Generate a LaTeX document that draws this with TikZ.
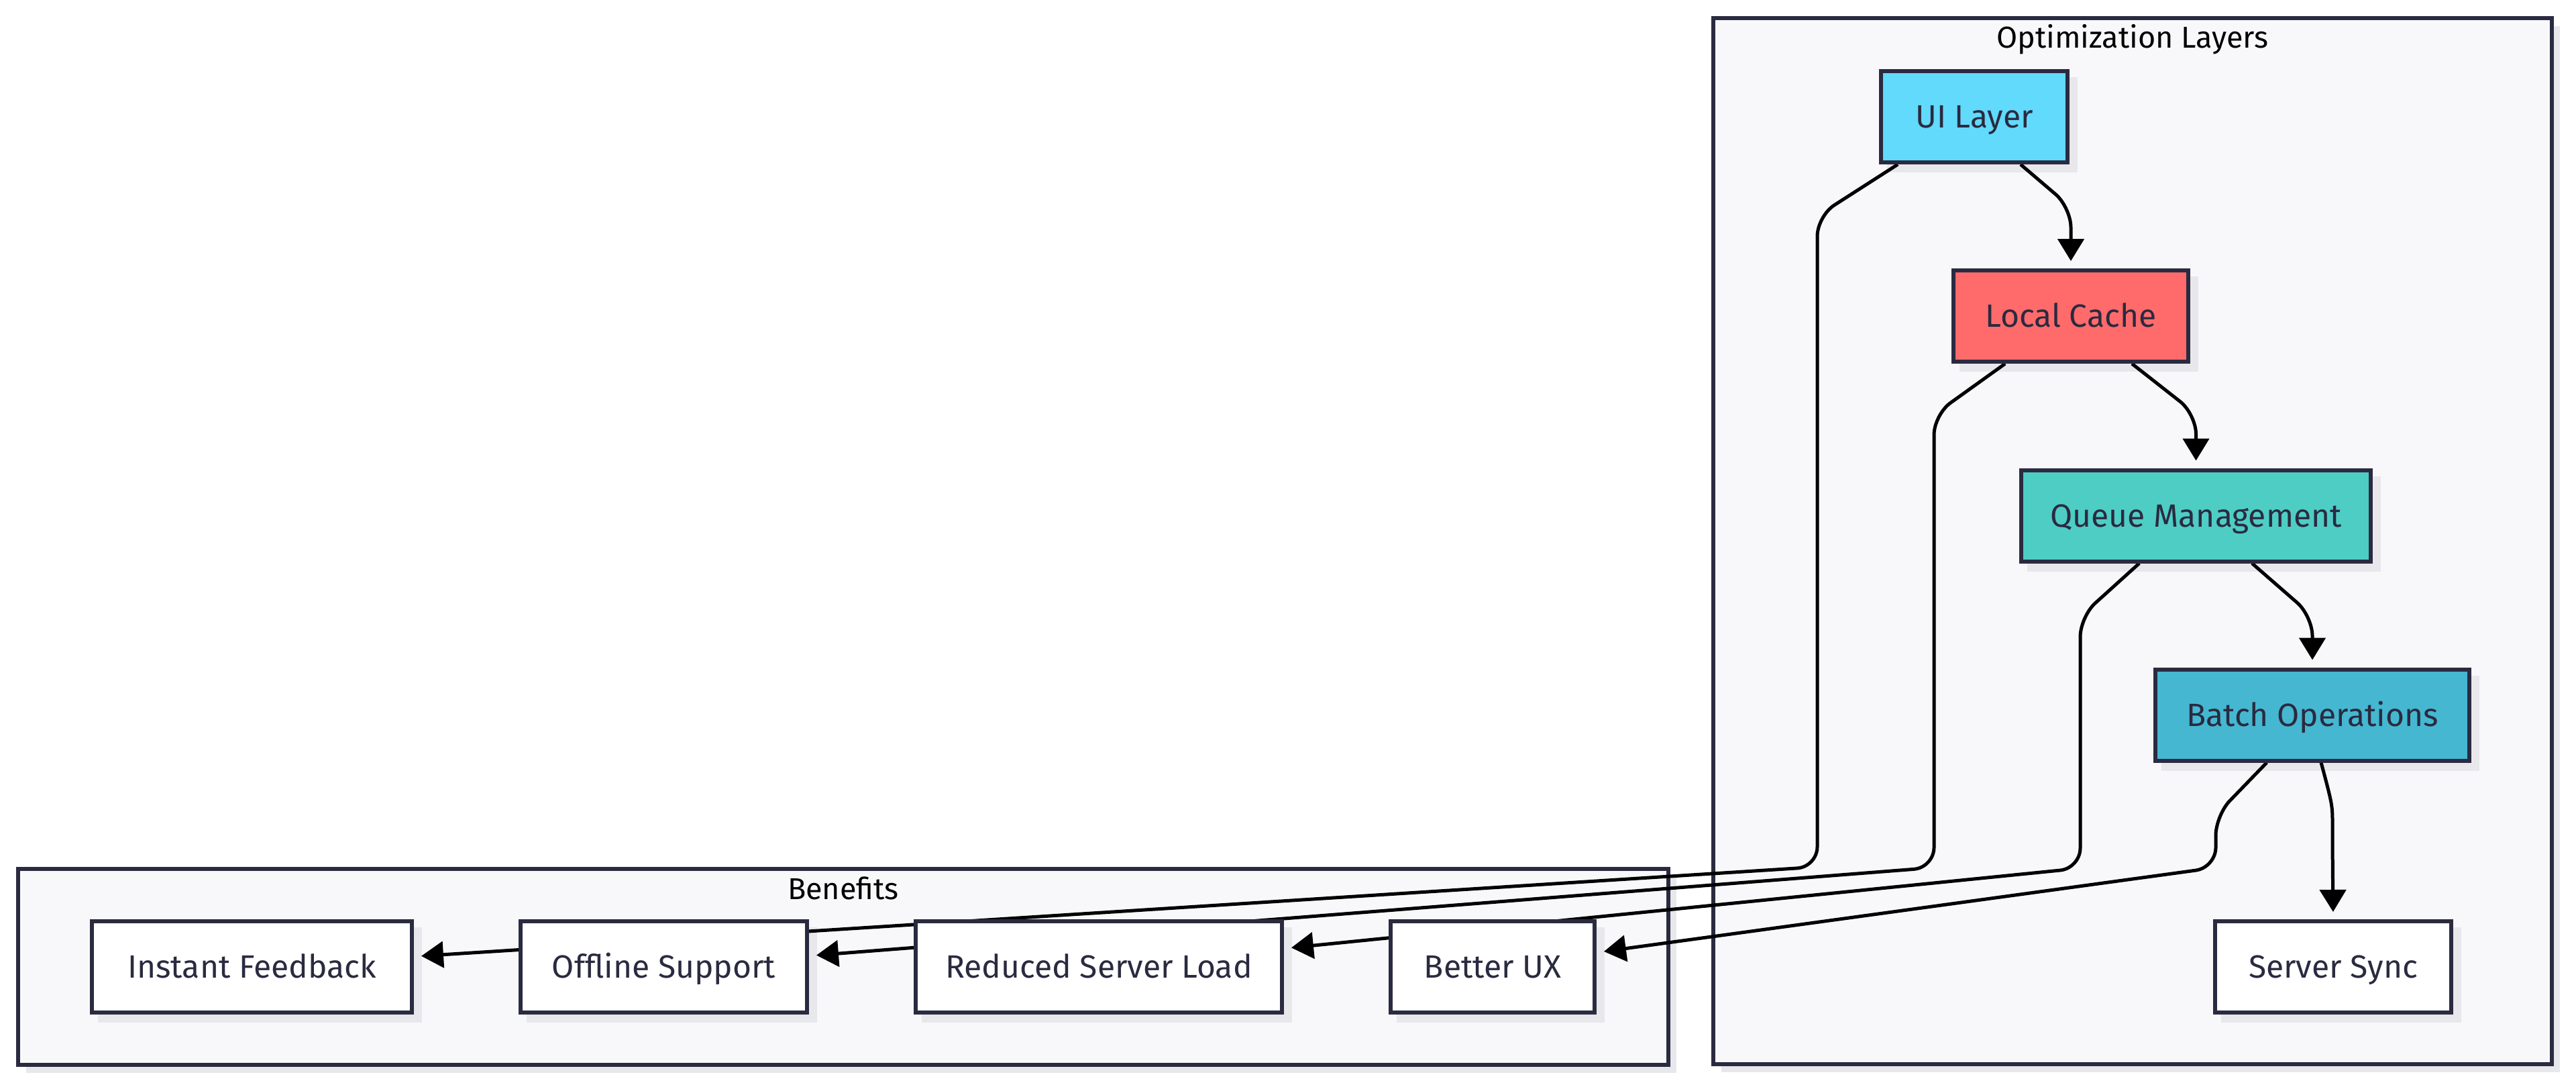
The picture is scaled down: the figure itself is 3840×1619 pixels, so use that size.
\documentclass[tikz,border=0pt]{standalone}
\usepackage{fontspec}
\setmainfont{Fira Sans}
\usetikzlibrary{arrows.meta,shadows,calc}
\definecolor{nodeborder}{HTML}{2A2A40}
\definecolor{nodetext}{HTML}{2A2A40}
\definecolor{clusterfill}{HTML}{F8F8FA}
\definecolor{shadowgray}{HTML}{E8E8EC}
\definecolor{uicol}{HTML}{61DAFB}
\definecolor{cachecol}{HTML}{FF6B6B}
\definecolor{queuecol}{HTML}{4ECDC4}
\definecolor{batchcol}{HTML}{45B7D1}
\pgfdeclarelayer{bg}
\pgfdeclarelayer{edgelayer}
\pgfsetlayers{bg,edgelayer,main}
\tikzset{
  box/.style={draw=nodeborder, line width=6pt, inner sep=0pt, fill=white,
    minimum height=136pt, text=nodetext, text height=33pt, text depth=0pt,
    font=\fontsize{48}{56}\selectfont},
  cluster/.style={draw=nodeborder, line width=6pt, inner sep=0pt, fill=clusterfill,
    drop shadow={shadow xshift=12pt, shadow yshift=-12pt, fill=shadowgray, opacity=1}},
  ctitle/.style={inner sep=0pt, text=black, text height=31pt, text depth=0pt,
    font=\fontsize{45}{54}\selectfont},
  edge/.style={draw=black, line width=5pt, rounded corners=30pt,
    -{Triangle[length=33pt,width=39pt]}, shorten >=11pt},
  boxshadow/.style={fill=shadowgray},
}
\begin{document}
\begin{tikzpicture}[x=1pt,y=-1pt]
\useasboundingbox (0,0) rectangle (3840,1619);
% clusters
\begin{pgfonlayer}{bg}
\fill[white] (0,0) rectangle (3840,1619);
\node[cluster, minimum width=1250pt, minimum height=1559pt] (opt) at (3179,806.5) {};
\node[cluster, minimum width=2460pt, minimum height=292pt] (ben) at (1257,1441) {};
\end{pgfonlayer}
\node[ctitle] (optt) at ([yshift=-32pt]opt.north) {Optimization Layers};
\node[ctitle] (bent) at ([yshift=-33pt]ben.north) {Benefits};
% optimization nodes
\node[box, fill=uicol, minimum width=278pt] (ui) at (2943,174) {UI Layer};
\node[box, fill=cachecol, minimum width=350pt] (lc) at (3087,471) {Local Cache};
\node[box, fill=queuecol, minimum width=521pt] (q) at (3273.5,768.5) {Queue Management};
\node[box, fill=batchcol, minimum width=468pt] (b) at (3447,1065.5) {Batch Operations};
\node[box, minimum width=352pt] (ss) at (3478,1441) {Server Sync};
% benefit nodes
\node[box, minimum width=477pt] (fb) at (375.5,1440.5) {Instant Feedback};
\node[box, minimum width=427pt] (off) at (989.5,1440.5) {Offline Support};
\node[box, minimum width=546pt] (rsl) at (1638,1440.5) {Reduced Server Load};
\node[box, minimum width=304pt] (bux) at (2225,1440.5) {Better UX};
% node shadows (under the connectors)
\begin{pgfonlayer}{bg}
\foreach \n in {ui,lc,q,b,ss,fb,off,rsl,bux}
  \fill[boxshadow] ([shift={(12pt,-12pt)}]\n.south west) rectangle ([shift={(12pt,-12pt)}]\n.north east);
\end{pgfonlayer}
% edges
\begin{pgfonlayer}{edgelayer}
\draw[edge] ([xshift=69pt]ui.south) -- (3087,309) -- (lc.north);
\draw[edge] ([xshift=91pt]lc.south) -- (3273.5,617) -- (q.north);
\draw[edge] ([xshift=83.5pt]q.south) -- (3447,918) -- (b.north);
\draw[edge] ([xshift=13pt]b.south) .. controls (3477,1200) .. (3477,1260) -- (ss.north);
\draw[edge] ([xshift=-114pt]ui.south) -- (2709,322) -- (2709,1292) -- ([yshift=15pt]fb.east);
\draw[edge] ([xshift=-98pt]lc.south) -- (2883,618) -- (2883,1293) -- ([yshift=16pt]off.east);
\draw[edge] ([xshift=-84.5pt]q.south) -- (3101,919) -- (3101,1294) -- ([yshift=27pt]rsl.east);
\draw[edge] ([xshift=-68pt]b.south) -- (3303,1215) -- (3303,1293) -- ([yshift=21pt]bux.east);
\end{pgfonlayer}
\end{tikzpicture}
\end{document}
